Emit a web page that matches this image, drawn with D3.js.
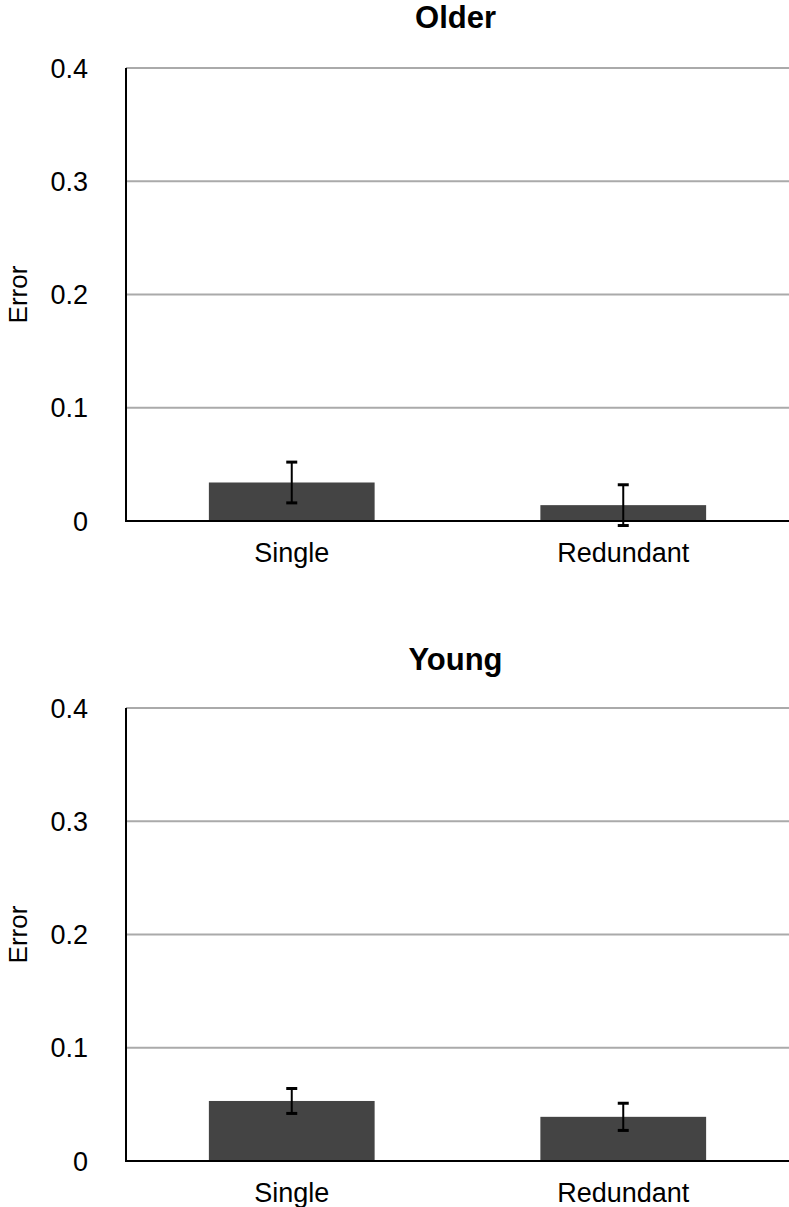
<!DOCTYPE html>
<html><head><meta charset="utf-8">
<script src="https://cdn.jsdelivr.net/npm/d3@7"></script>
<style>body{margin:0;background:#fff}svg{display:block}text{font-family:"Liberation Sans",Arial,Helvetica,sans-serif}</style>
</head><body>
<svg id="c" width="789" height="1207"></svg>
<script>
const categories = ["Single", "Redundant"];
const panelTitles = ["Older", "Young"];
const olderValues = [0.034, 0.014];
const olderErrors = [0.018, 0.018];
const youngValues = [0.053, 0.039];
const youngErrors = [0.011, 0.012];
const yTicks = [0, 0.1, 0.2, 0.3, 0.4];
const yTickLabels = ["0", "0.1", "0.2", "0.3", "0.4"];
const yLabel = "Error";

const svg = d3.select("#c");
const panels = [
  {title: panelTitles[0], values: olderValues, errors: olderErrors, top: 68, bottom: 521, titleY: 28},
  {title: panelTitles[1], values: youngValues, errors: youngErrors, top: 708, bottom: 1161, titleY: 670}
];
const left = 126, right = 789;
const x = d3.scaleBand().domain(categories).range([left, right]).paddingInner(0.5).paddingOuter(0.25);

panels.forEach(p => {
  const y = d3.scaleLinear().domain([0, 0.4]).range([p.bottom, p.top]);
  const g = svg.append("g");
  g.selectAll("line.grid").data(yTicks.slice(1)).join("line")
    .attr("x1", left).attr("x2", right)
    .attr("y1", d => y(d)).attr("y2", d => y(d))
    .attr("stroke", "#aaa").attr("stroke-width", 2);
  g.selectAll("text.tick").data(yTicks).join("text")
    .attr("x", 88).attr("y", d => y(d) + 9.5)
    .attr("text-anchor", "end").attr("font-size", 27).attr("fill", "#000")
    .text((d, i) => yTickLabels[i]);
  g.selectAll("rect").data(categories).join("rect")
    .attr("x", d => x(d)).attr("width", x.bandwidth())
    .attr("y", (d, i) => y(p.values[i]))
    .attr("height", (d, i) => y(0) - y(p.values[i]))
    .attr("fill", "#444");
  categories.forEach((c, i) => {
    const cx = x(c) + x.bandwidth() / 2;
    const hi = y(p.values[i] + p.errors[i]), lo = y(p.values[i] - p.errors[i]);
    g.append("line").attr("x1", cx).attr("x2", cx).attr("y1", hi).attr("y2", lo).attr("stroke", "#000").attr("stroke-width", 2);
    [hi, lo].forEach(yy => g.append("line").attr("x1", cx - 5.5).attr("x2", cx + 5.5).attr("y1", yy).attr("y2", yy).attr("stroke", "#000").attr("stroke-width", 3));
  });
  g.append("line").attr("x1", left).attr("x2", left).attr("y1", p.top).attr("y2", p.bottom + 1).attr("stroke", "#000").attr("stroke-width", 2);
  g.append("line").attr("x1", left - 1).attr("x2", right).attr("y1", p.bottom).attr("y2", p.bottom).attr("stroke", "#000").attr("stroke-width", 2);
  g.selectAll("text.cat").data(categories).join("text")
    .attr("x", d => x(d) + x.bandwidth() / 2).attr("y", p.bottom + 41)
    .attr("text-anchor", "middle").attr("font-size", 27).attr("fill", "#000")
    .text(d => d);
  g.append("text").attr("x", (left + right) / 2 - 2).attr("y", p.titleY)
    .attr("text-anchor", "middle").attr("font-size", 31).attr("font-weight", "bold").text(p.title);
  g.append("text").attr("transform", `translate(27,${(p.top + p.bottom) / 2}) rotate(-90)`)
    .attr("text-anchor", "middle").attr("font-size", 26).text(yLabel);
});
</script>
</body></html>
